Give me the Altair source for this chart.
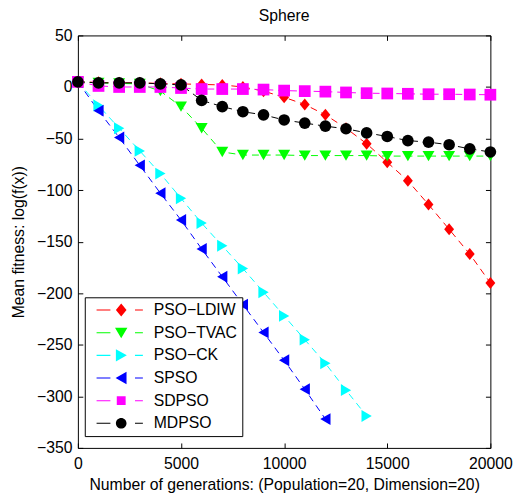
import altair as alt
import pandas as pd

FONT = "Liberation Sans"

names = ["PSO−LDIW", "PSO−TVAC", "PSO−CK", "SPSO", "SDPSO", "MDPSO"]
colors = ["#ff0000", "#00ff00", "#00ffff", "#0000ff", "#ff00ff", "#000000"]

gens = [0, 1000, 2000, 3000, 4000, 5000, 6000, 7000, 8000, 9000, 10000,
        11000, 12000, 13000, 14000, 15000, 16000, 17000, 18000, 19000, 20000]

ldiw = [5, 4.5, 4, 4, 3.5, 3, 2.5, 2, 0, -4, -10, -17, -27, -40, -55, -73,
        -91, -114, -138, -162, -190]
tvac = [5, 4, 3.5, 3, -4, -19, -40, -63, -66, -66, -66, -66.5, -66.5, -66.5,
        -66.5, -67, -67, -67, -67, -67, -67]
ck = [5, -18, -40, -62, -84, -108, -132, -154, -176, -199, -222, -245, -268,
      -294, -319]
spso = [5, -23, -49, -76, -103, -129, -157, -184, -211, -238, -265, -293, -322]
sdpso = [5, 1, 0, 0, 0, -1, -2, -2, -2, -2.5, -3.5, -4, -4.5, -5.3, -6, -6.3,
         -6.6, -7, -7, -7.3, -7.5]
mdpso = [5, 4, 4, 4, 3, 2, -13, -19, -24, -27, -32, -35, -38, -40.5, -44.5,
         -48, -52, -53.5, -56, -60, -63]

x_ticks = [0, 5000, 10000, 15000, 20000]
y_ticks = [-350, -300, -250, -200, -150, -100, -50, 0, 50]

series = [ldiw, tvac, ck, spso, sdpso, mdpso]
rows = []
for name, vals in zip(names, series):
    for g, v in zip(gens, vals):
        rows.append({"gen": g, "value": v, "algo": name, "label": name})
df = pd.DataFrame(rows)

# plot marker shapes / sizes
plot_shapes = ["M0,-1L0.82,0L0,1L-0.82,0Z", "triangle-down", "triangle-right",
               "triangle-left", "square", "circle"]
plot_sizes = [150, 140, 144, 144, 87, 115]

# legend symbols: dashed segment + marker, drawn as one path
dash = "M-0.17,-0.09L2.17,-0.09L2.17,0.09L-0.17,0.09Z M6.33,-0.09L7.67,-0.09L7.67,0.09L6.33,0.09Z "
leg_markers = [
    "M4,-1.1L4.9,0L4,1.1L3.1,0Z",
    "M2.95,-0.85L5.05,-0.85L4,0.95Z",
    "M3.1,-1.05L4.95,0L3.1,1.05Z",
    "M4.9,-1.05L3.05,0L4.9,1.05Z",
    "M3.25,-0.75L4.75,-0.75L4.75,0.75L3.25,0.75Z",
    "M3.1,0A0.9,0.9 0 1,1 4.9,0A0.9,0.9 0 1,1 3.1,0Z",
]
leg_paths = [dash + m for m in leg_markers]

xscale = alt.Scale(domain=[0, 20000], nice=False, zero=False)
yscale = alt.Scale(domain=[-350, 50], nice=False, zero=False)
cscale = alt.Scale(domain=names, range=colors)

common_axis = dict(grid=False, domain=False, tickSize=5, offset=-5,
                   tickColor="black", labelColor="black", labelFont=FONT,
                   labelFontSize=16, titleFont=FONT, titleFontSize=16,
                   titleFontWeight="normal", titleColor="black",
                   labelOverlap=False, labelFlush=False)

lines = alt.Chart(df).mark_line(strokeWidth=1, strokeDash=[7, 5]).encode(
    x=alt.X("gen:Q", scale=xscale,
            axis=alt.Axis(orient="bottom", values=x_ticks, format="d",
                          labelPadding=8, titlePadding=5,
                          title="Number of generations: (Population=20, Dimension=20)",
                          **common_axis)),
    y=alt.Y("value:Q", scale=yscale,
            axis=alt.Axis(orient="left", values=y_ticks, format="d",
                          labelPadding=6, titlePadding=10,
                          title="Mean fitness: log(f(x))", **common_axis)),
    color=alt.Color("algo:N", scale=cscale, legend=None),
    detail="algo:N",
    order="gen:Q",
)

points = alt.Chart(df).mark_point(filled=True, opacity=1).encode(
    x=alt.X("gen:Q", scale=xscale,
            axis=alt.Axis(orient="top", values=x_ticks, labels=False,
                          title=None, **common_axis)),
    y=alt.Y("value:Q", scale=yscale,
            axis=alt.Axis(orient="right", values=y_ticks, labels=False,
                          title=None, **common_axis)),
    color=alt.Color("algo:N", scale=cscale, legend=None),
    shape=alt.Shape("algo:N", scale=alt.Scale(domain=names, range=plot_shapes),
                    legend=None),
    size=alt.Size("algo:N", scale=alt.Scale(domain=names, range=plot_sizes),
                  legend=None),
)

leg = alt.Legend(title=None, orient="none", legendX=7, legendY=266,
                 strokeColor="black", fillColor="white", padding=5,
                 symbolSize=144, symbolOpacity=1, symbolStrokeWidth=0,
                 labelFont=FONT, labelFontSize=16, labelColor="black",
                 labelOffset=49, rowPadding=7, cornerRadius=0)

ghost = alt.Chart(df).mark_point(filled=True, opacity=0, size=144).encode(
    x=alt.X("gen:Q", scale=xscale, axis=None),
    y=alt.Y("value:Q", scale=yscale, axis=None),
    color=alt.Color("label:N", scale=cscale, legend=leg),
    shape=alt.Shape("label:N", scale=alt.Scale(domain=names, range=leg_paths),
                    legend=leg),
)

chart = alt.layer(lines, points, ghost).resolve_scale(
    color="independent", shape="independent"
).resolve_axis(
    x="independent", y="independent"
).properties(
    width=419, height=419,
    title=alt.TitleParams("Sphere", font=FONT, fontSize=16,
                          fontWeight="normal", color="black", offset=4),
    autosize=alt.AutoSizeParams(type="none"),
    padding={"left": 71, "top": 24, "right": 24, "bottom": 46},
).configure_view(stroke="black", strokeWidth=1)

chart.save("out.html", embed_options={"renderer": "svg", "actions": False})
